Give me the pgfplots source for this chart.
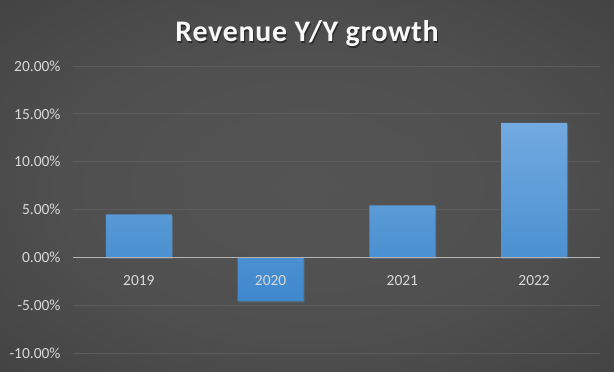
\documentclass[border=0pt]{standalone}
\usepackage{pgfplots}
\pgfplotsset{compat=1.18}
\usepackage{fontspec}
\setmainfont{Carlito}
\usetikzlibrary{shadows}
\definecolor{bartop}{RGB}{114,170,224}
\definecolor{barbot}{RGB}{62,136,204}
\definecolor{gridc}{RGB}{92,92,92}
\definecolor{zeroc}{RGB}{180,180,180}
\definecolor{txt}{RGB}{217,217,217}
\pgfdeclareradialshading{bgshade}{\pgfpoint{0bp}{0bp}}{%
  rgb(0bp)=(0.33,0.33,0.33); rgb(20bp)=(0.31,0.31,0.31); rgb(40bp)=(0.25,0.25,0.25);
  rgb(50bp)=(0.21,0.21,0.21); rgb(71bp)=(0.165,0.165,0.165)}
\pgfplotsset{
  base/.style={
    scale only axis, width=527bp, height=287bp,
    xmin=-0.5, xmax=3.5, ymin=-10, ymax=20,
    xtick={0,1,2,3}, ytick={-10,-5,0,5,10,15,20},
    major tick length=0pt,
    /pgf/number format/assume math mode=true,
    ticklabel style={font=\fontsize{15.5}{18}\selectfont, text=txt},
  }
}
\begin{document}
\begin{tikzpicture}
\shade[shading=bgshade] (-73bp,-19bp) rectangle (541bp,353bp);
\begin{axis}[
  base,
  axis line style={draw=none},
  xticklabels={},
  ymajorgrids, grid style={draw=gridc, line width=0.8bp},
  yticklabel={\pgfmathprintnumber[fixed,fixed zerofill,precision=2]{\tick}\%},
  yticklabel style={anchor=east, xshift=-9bp},
]
\addplot[ybar, bar width=0.5, draw=none, top color=bartop, bottom color=barbot,
  drop shadow={shadow xshift=1bp, shadow yshift=-1.5bp, opacity=0.25}]
  coordinates {(0,4.48) (1,-4.58) (2,5.42) (3,14.06)};
\end{axis}
\begin{axis}[
  base,
  axis x line=middle, axis y line=none,
  axis line style={-},
  x axis line style={draw=zeroc, line width=1.6bp},
  hide obscured x ticks=false,
  xticklabels={2019,2020,2021,2022},
  yticklabels={},
  xticklabel style={anchor=north, yshift=-15bp},
]
\end{axis}
\node[anchor=base, font=\bfseries\fontsize{30}{36}\selectfont\addfontfeatures{LetterSpace=2.5}, text=black, opacity=0.45] at (235bp,309.5bp) {Revenue Y/Y growth};
\node[anchor=base, font=\bfseries\fontsize{30}{36}\selectfont\addfontfeatures{LetterSpace=2.5}, text=white!95!gray] at (234bp,311bp) {Revenue Y/Y growth};
\end{tikzpicture}
\end{document}
